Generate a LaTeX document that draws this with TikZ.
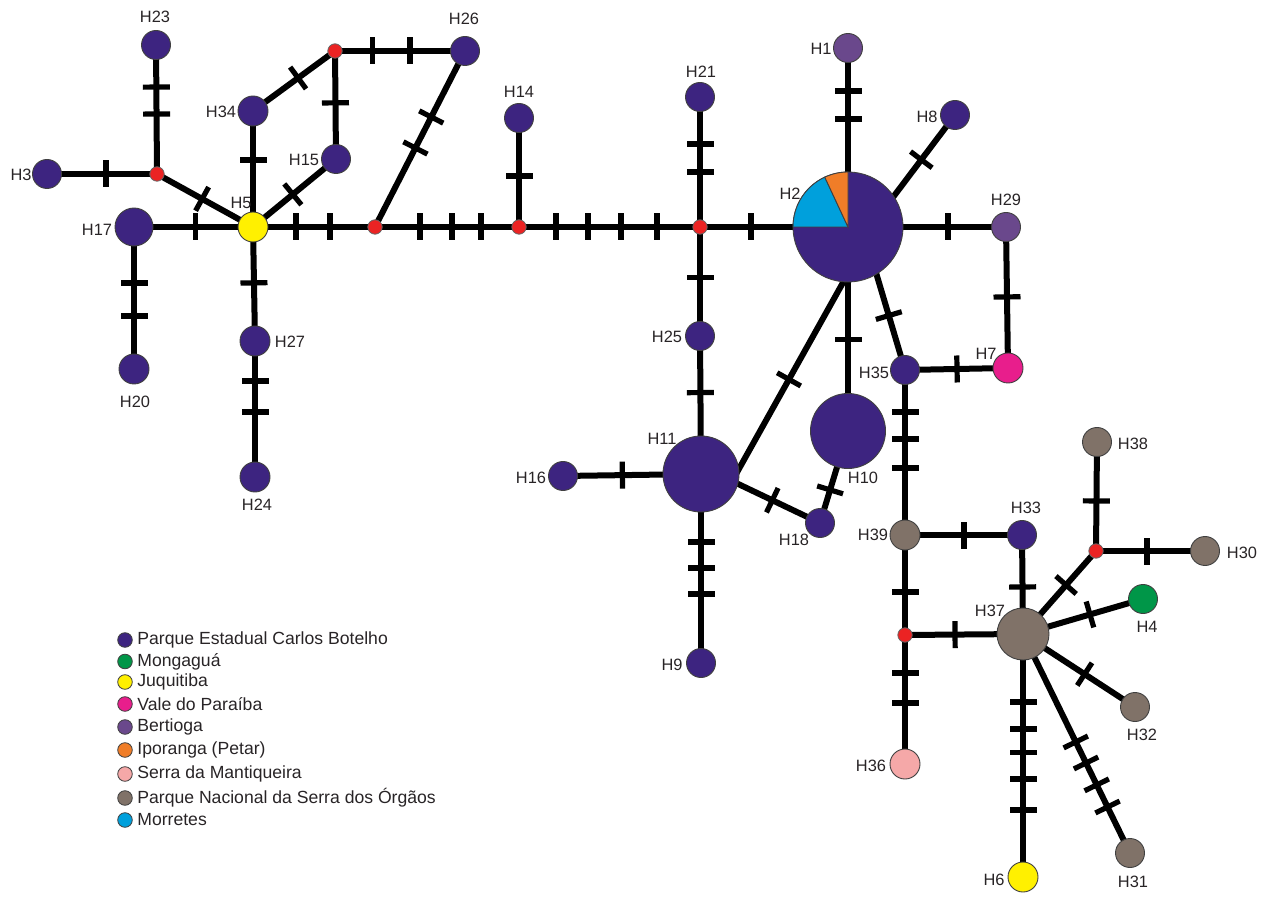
\documentclass[tikz,border=0pt]{standalone}
\usepackage{fontspec}
\setmainfont{Liberation Sans}
\usetikzlibrary{backgrounds}

% population colours
\definecolor{pecb}{RGB}{61,36,128}
\definecolor{mong}{RGB}{0,150,72}
\definecolor{juqu}{RGB}{255,240,0}
\definecolor{vale}{RGB}{232,30,140}
\definecolor{bert}{RGB}{106,72,140}
\definecolor{ipor}{RGB}{240,125,40}
\definecolor{mant}{RGB}{245,168,168}
\definecolor{parn}{RGB}{128,114,104}
\definecolor{morr}{RGB}{0,160,220}
\definecolor{medv}{RGB}{235,35,35}
\definecolor{txt}{RGB}{40,36,38}

\tikzset{
  hap/.style={circle, draw=black!75, line width=0.45pt, inner sep=0pt, minimum size=#1},
  hap/.default=14.5pt,
  medn/.style={circle, draw=black!60, line width=0.4pt, fill=medv, inner sep=0pt, minimum size=7.2pt},
  edge/.style={line width=3pt, black},
  into/.style={shorten <=-4pt},
  tk/.style={sloped, fill=black, draw=none, inner sep=0pt, minimum width=2.6pt, minimum height=13.5pt},
  lab/.style={text=txt, inner sep=0pt, font=\fontsize{8.2}{9}\selectfont},
  leg/.style={text=txt, inner sep=0pt, anchor=west, font=\fontsize{8.8}{10}\selectfont},
  legdot/.style={circle, draw=black!75, line width=0.4pt, inner sep=0pt, minimum size=7.3pt},
}

\begin{document}
\begin{tikzpicture}[x=0.5pt, y=-0.5pt]
\useasboundingbox (0,0) rectangle (1273,897);

% ---- haplotypes ----
\node[hap, fill=pecb] (H23) at (156,45) {};
\node[hap, fill=pecb] (H3)  at (47,174) {};
\node[medn] (m1) at (157,174) {};
\node[hap=19pt, fill=pecb] (H17) at (134,227) {};
\node[hap=15pt, fill=juqu] (H5) at (253,227) {};
\node[hap=15pt, fill=pecb] (H34) at (253,111) {};
\node[medn] (m2) at (335,51) {};
\node[hap, fill=pecb] (H26) at (465,51) {};
\node[hap, fill=pecb] (H15) at (336,159) {};
\node[medn] (m3) at (375,227) {};
\node[medn] (m4) at (519,227) {};
\node[hap, fill=pecb] (H14) at (519,118) {};
\node[medn] (m5) at (700,227) {};
\node[hap, fill=pecb] (H21) at (700,97) {};
\node[hap, fill=pecb] (H25) at (700,336) {};
\node[hap=55pt, fill=pecb] (H2) at (848,227) {};
\node[hap, fill=bert] (H1) at (848,48) {};
\node[hap, fill=pecb] (H8) at (955,115) {};
\node[hap, fill=bert] (H29) at (1006,227) {};
\node[hap=15pt, fill=vale] (H7) at (1008,368) {};
\node[hap, fill=pecb] (H35) at (905,370) {};
\node[hap=37.5pt, fill=pecb] (H10) at (848,431) {};
\node[hap=38pt, fill=pecb] (H11) at (701,474) {};
\node[hap, fill=pecb] (H16) at (563,476) {};
\node[hap, fill=pecb] (H18) at (820,523) {};
\node[hap, fill=pecb] (H9) at (701,663) {};
\node[hap=15pt, fill=pecb] (H20) at (134,369) {};
\node[hap=15pt, fill=pecb] (H27) at (255,341) {};
\node[hap=15pt, fill=pecb] (H24) at (255,477) {};
\node[hap=15pt, fill=parn] (H39) at (905,535) {};
\node[hap, fill=pecb] (H33) at (1022,535) {};
\node[medn] (m6) at (905,635) {};
\node[hap=26pt, fill=parn] (H37) at (1023,634) {};
\node[medn] (m7) at (1096,551) {};
\node[hap, fill=parn] (H38) at (1097,442) {};
\node[hap, fill=parn] (H30) at (1205,551) {};
\node[hap, fill=mong] (H4) at (1143,599) {};
\node[hap, fill=parn] (H32) at (1135,707) {};
\node[hap, fill=parn] (H31) at (1130,853) {};
\node[hap=15pt, fill=juqu] (H6) at (1023,877) {};
\node[hap=15pt, fill=mant] (H36) at (905,764) {};

% shared slices of H2
\filldraw[fill=morr, draw=black!75, line width=0.45pt]
  (H2.center) -- ++(115:27.5pt) arc[start angle=115, end angle=180, radius=27.5pt] -- cycle;
\filldraw[fill=ipor, draw=black!75, line width=0.45pt]
  (H2.center) -- ++(90:27.5pt) arc[start angle=90, end angle=115, radius=27.5pt] -- cycle;

% ---- mutational steps ----
\begin{scope}[on background layer]
\draw[edge] (m1.center) -- node[tk,pos=.465]{} node[tk,pos=.674]{} (H23.center);
\draw[edge] (H3.center) -- node[tk,pos=.536]{} (m1.center);
\draw[edge] (m1.center) -- node[tk,pos=.47]{} (H5.center);
\draw[edge] (H17.center) -- node[tk,pos=.52]{} (H5.center);
\draw[edge] (H17.center) -- node[tk,pos=.394]{} node[tk,pos=.627]{} (H20.center);
\draw[edge] (H5.center) -- node[tk,pos=.49]{} (H27.center);
\draw[edge] (H27.center) -- node[tk,pos=.294]{} node[tk,pos=.522]{} (H24.center);
\draw[edge] (H5.center) -- node[tk,pos=.578]{} (H34.center);
\draw[edge] (H34.center) -- node[tk,pos=.55]{} (m2.center);
\draw[edge] (m2.center) -- node[tk,pos=.48]{} (H15.center);
\draw[edge] (H5.center) -- node[tk,pos=.48]{} (H15.center);
\draw[edge] (m2.center) -- node[tk,pos=.29]{} node[tk,pos=.577]{} (H26.center);
\draw[edge] (m3.center) -- node[tk,pos=.449]{} node[tk,pos=.625]{} (H26.center);
\draw[edge] (H5.center) -- node[tk,pos=.352]{} node[tk,pos=.631]{} (m3.center);
\draw[edge] (m3.center) -- node[tk,pos=.3125]{} node[tk,pos=.535]{} node[tk,pos=.736]{} (m4.center);
\draw[edge] (m4.center) -- node[tk,pos=.468]{} (H14.center);
\draw[edge] (m4.center) -- node[tk,pos=.204]{} node[tk,pos=.381]{} node[tk,pos=.564]{} node[tk,pos=.762]{} (m5.center);
\draw[edge] (m5.center) -- node[tk,pos=.423]{} node[tk,pos=.638]{} (H21.center);
\draw[edge] (m5.center) -- node[tk,pos=.345]{} (H2.center);
\draw[edge] (m5.center) -- node[tk,pos=.46]{} (H25.center);
\draw[edge] (H25.center) -- node[tk,pos=.41]{} (H11.center);
\draw[edge] (H2.center) -- node[tk,pos=.603]{} node[tk,pos=.76]{} (H1.center);
\draw[edge, into] (H2.34) -- node[tk,pos=.448]{} (H8.center);
\draw[edge] (H2.center) -- node[tk,pos=.633]{} (H29.center);
\draw[edge] (H29.center) -- node[tk,pos=.496]{} (H7.center);
\draw[edge, into] (H2.-59) -- node[tk,pos=.43]{} (H35.center);
\draw[edge] (H2.center) -- node[tk,pos=.55]{} (H10.center);
\draw[edge, into, shorten >=-4pt] (H2.-95) -- node[tk,pos=.521]{} (H11.8);
\draw[edge] (H35.center) -- node[tk,pos=.505]{} (H7.center);
\draw[edge] (H35.center) -- node[tk,pos=.255]{} node[tk,pos=.418]{} node[tk,pos=.594]{} (H39.center);
\draw[edge] (H16.center) -- node[tk,pos=.43]{} (H11.center);
\draw[edge, into] (H11.-15) -- node[tk,pos=.417]{} (H18.center);
\draw[edge] (H10.center) -- node[tk,pos=.64]{} (H18.center);
\draw[edge] (H11.center) -- node[tk,pos=.36]{} node[tk,pos=.497]{} node[tk,pos=.635]{} (H9.center);
\draw[edge] (H39.center) -- node[tk,pos=.504]{} (H33.center);
\draw[edge] (H39.center) -- node[tk,pos=.57]{} (m6.center);
\draw[edge] (m6.center) -- node[tk,pos=.424]{} (H37.center);
\draw[edge] (m6.center) -- node[tk,pos=.295]{} node[tk,pos=.527]{} (H36.center);
\draw[edge] (H33.center) -- node[tk,pos=.525]{} (H37.center);
\draw[edge] (H37.center) -- node[tk,pos=.59]{} (m7.center);
\draw[edge] (m7.center) -- node[tk,pos=.459]{} (H38.center);
\draw[edge] (m7.center) -- node[tk,pos=.468]{} (H30.center);
\draw[edge] (H37.center) -- node[tk,pos=.558]{} (H4.center);
\draw[edge] (H37.center) -- node[tk,pos=.55]{} (H32.center);
\draw[edge] (H37.center) -- node[tk,pos=.28]{} node[tk,pos=.391]{} node[tk,pos=.486]{} node[tk,pos=.597]{} node[tk,pos=.724]{} (H6.center);
\draw[edge] (H37.center) -- node[tk,pos=.493]{} node[tk,pos=.589]{} node[tk,pos=.689]{} node[tk,pos=.79]{} (H31.center);
\end{scope}

% ---- haplotype labels ----
\node[lab] (lH23) at (155,17) {H23};
\node[lab] (lH3) at (21,175) {H3};
\node[lab] (lH34) at (221,112) {H34};
\node[lab] (lH15) at (304,160) {H15};
\node[lab] (lH5) at (241,203) {H5};
\node[lab] (lH17) at (97,230) {H17};
\node[lab] (lH26) at (464,19) {H26};
\node[lab] (lH14) at (519,92) {H14};
\node[lab] (lH21) at (701,72) {H21};
\node[lab] (lH1) at (821,49) {H1};
\node[lab] (lH8) at (927,117) {H8};
\node[lab] (lH2) at (790,194) {H2};
\node[lab] (lH29) at (1006,200) {H29};
\node[lab] (lH7) at (986,354) {H7};
\node[lab] (lH35) at (874,373) {H35};
\node[lab] (lH25) at (667,337) {H25};
\node[lab] (lH11) at (662,439) {H11};
\node[lab] (lH16) at (531,478) {H16};
\node[lab] (lH10) at (863,478) {H10};
\node[lab] (lH18) at (794,540) {H18};
\node[lab] (lH39) at (873,535) {H39};
\node[lab] (lH9) at (672,665) {H9};
\node[lab] (lH20) at (135,402) {H20};
\node[lab] (lH27) at (290,342) {H27};
\node[lab] (lH24) at (257,505) {H24};
\node[lab] (lH38) at (1133,444) {H38};
\node[lab] (lH33) at (1026,508) {H33};
\node[lab] (lH30) at (1242,553) {H30};
\node[lab] (lH4) at (1147,627) {H4};
\node[lab] (lH37) at (990,611) {H37};
\node[lab] (lH32) at (1142,735) {H32};
\node[lab] (lH36) at (871,766) {H36};
\node[lab] (lH6) at (994,880) {H6};
\node[lab] (lH31) at (1133,882) {H31};

% ---- legend ----
\node[legdot, fill=pecb] (d1) at (125,640) {};
\node[leg] (t1) at (137,640) {Parque Estadual Carlos Botelho};
\node[legdot, fill=mong] (d2) at (125,661.5) {};
\node[leg] (t2) at (137,661.5) {Mongaguá};
\node[legdot, fill=juqu] (d3) at (125,682) {};
\node[leg] (t3) at (137,682) {Juquitiba};
\node[legdot, fill=vale] (d4) at (125,704) {};
\node[leg] (t4) at (137,704) {Vale do Paraíba};
\node[legdot, fill=bert] (d5) at (125,727) {};
\node[leg] (t5) at (137,727) {Bertioga};
\node[legdot, fill=ipor] (d6) at (125,750) {};
\node[leg] (t6) at (137,750) {Iporanga (Petar)};
\node[legdot, fill=mant] (d7) at (125,774) {};
\node[leg] (t7) at (137,774) {Serra da Mantiqueira};
\node[legdot, fill=parn] (d8) at (125,798) {};
\node[leg] (t8) at (137,798) {Parque Nacional da Serra dos Órgãos};
\node[legdot, fill=morr] (d9) at (125,820) {};
\node[leg] (t9) at (137,820) {Morretes};
\end{tikzpicture}
\end{document}
